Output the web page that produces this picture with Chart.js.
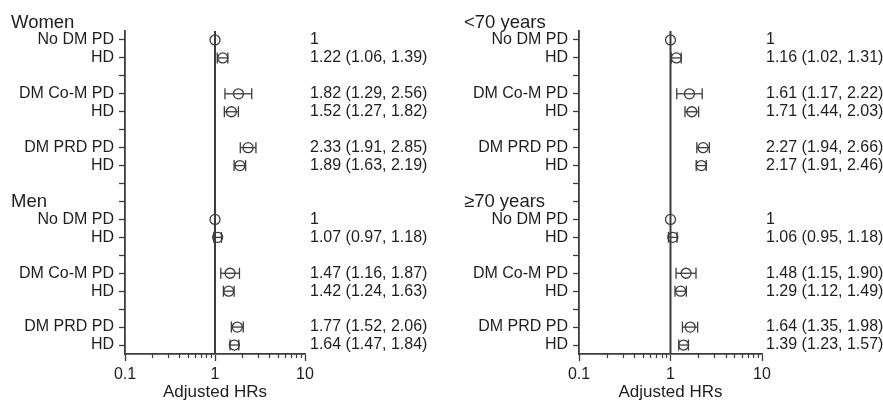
<!DOCTYPE html>
<html>
<head>
<meta charset="utf-8">
<script src="https://cdn.jsdelivr.net/npm/chart.js@4"></script>
<style>
  html, body { margin: 0; padding: 0; background: #fff; }
  #wrap { position: relative; width: 883px; height: 404px; }
  .panel { position: absolute; top: 0; height: 404px; }
  #left { left: 0; width: 441px; }
  #right { left: 441px; width: 442px; }
</style>
</head>
<body>
<div id="wrap">
  <div class="panel" id="left"><canvas id="sexChart"></canvas></div>
  <div class="panel" id="right"><canvas id="ageChart"></canvas></div>
</div>
<script>
// Row labels along the y axis (blank rows separate the groups)
const rowLabels = ['No DM PD', 'HD', '', 'DM Co-M PD', 'HD', '', 'DM PRD PD', 'HD', '',
                   '', 'No DM PD', 'HD', '', 'DM Co-M PD', 'HD', '', 'DM PRD PD', 'HD'];
// Row index of each estimate, and of each group heading
const estimateRows = [0, 1, 3, 4, 6, 7, 10, 11, 13, 14, 16, 17];
const groupRows = [-1, 9];

// Left panel: by sex
const sexTitles = ['Women', 'Men'];
const sexHR   = [1, 1.22, 1.82, 1.52, 2.33, 1.89,   1, 1.07, 1.47, 1.42, 1.77, 1.64];
const sexLow  = [null, 1.06, 1.29, 1.27, 1.91, 1.63, null, 0.97, 1.16, 1.24, 1.52, 1.47];
const sexHigh = [null, 1.39, 2.56, 1.82, 2.85, 2.19, null, 1.18, 1.87, 1.63, 2.06, 1.84];

// Right panel: by age
const ageTitles = ['<70 years', '\u226570 years'];
const ageHR   = [1, 1.16, 1.61, 1.71, 2.27, 2.17,   1, 1.06, 1.48, 1.29, 1.64, 1.39];
const ageLow  = [null, 1.02, 1.17, 1.44, 1.94, 1.91, null, 0.95, 1.15, 1.12, 1.35, 1.23];
const ageHigh = [null, 1.31, 2.22, 2.03, 2.66, 2.46, null, 1.18, 1.90, 1.49, 1.98, 1.57];

// X axis ticks
const xTicks = [0.1, 1, 10];
const xMinorTicks = [0.2, 0.3, 0.4, 0.5, 0.6, 0.7, 0.8, 0.9, 2, 3, 4, 5, 6, 7, 8, 9];

const FONT = '"Liberation Sans", Arial, Helvetica, sans-serif';
const AXIS = '#3c3c3c';
const TEXT = '#1e1e1e';

function fmt(v) { return v.toFixed(2); }

function makePanel(canvasId, titles, hr, lo, hi, geom) {
  const datasets = [];

  // Reference line at HR = 1
  datasets.push({
    type: 'line',
    data: [{ x: 1, y: -0.5 }, { x: 1, y: 17.5 }],
    borderColor: AXIS, borderWidth: 2, pointRadius: 0, order: 3
  });

  // Confidence intervals with end caps
  hr.forEach((v, i) => {
    if (lo[i] == null) return;
    datasets.push({
      type: 'line',
      data: [{ x: lo[i], y: estimateRows[i] }, { x: hi[i], y: estimateRows[i] }],
      borderColor: AXIS, borderWidth: 1.3,
      pointStyle: 'line', rotation: 90, pointRadius: 5.5,
      pointBorderColor: AXIS, pointBorderWidth: 1.3, order: 2
    });
  });

  // Point estimates (open circles)
  datasets.push({
    type: 'scatter',
    data: hr.map((v, i) => ({ x: v, y: estimateRows[i] })),
    pointStyle: 'circle', pointRadius: 5,
    pointBackgroundColor: 'rgba(0,0,0,0)',
    pointBorderColor: AXIS, pointBorderWidth: 1.3, order: 1
  });

  const panelText = {
    id: 'panelText',
    afterDraw(chart) {
      const { ctx, chartArea, scales: { x, y } } = chart;
      ctx.save();
      // minor ticks of the log axis
      ctx.strokeStyle = AXIS;
      ctx.lineWidth = 1.2;
      xMinorTicks.forEach(v => {
        const px = Math.round(x.getPixelForValue(v)) + 0.5;
        ctx.beginPath();
        ctx.moveTo(px, chartArea.bottom);
        ctx.lineTo(px, chartArea.bottom + 4);
        ctx.stroke();
      });
      // group headings
      ctx.fillStyle = TEXT;
      ctx.textAlign = 'left';
      ctx.textBaseline = 'alphabetic';
      ctx.font = '18.5px ' + FONT;
      titles.forEach((t, i) => ctx.fillText(t, geom.titleX, y.getPixelForValue(groupRows[i]) + 5.5));
      // HR (95% CI) column
      ctx.font = '16px ' + FONT;
      ctx.textBaseline = 'middle';
      hr.forEach((v, i) => {
        const label = lo[i] == null ? String(v) : `${fmt(v)} (${fmt(lo[i])}, ${fmt(hi[i])})`;
        ctx.fillText(label, chartArea.right + geom.textGap, y.getPixelForValue(estimateRows[i]));
      });
      ctx.restore();
    }
  };

  return new Chart(document.getElementById(canvasId), {
    type: 'scatter',
    data: { datasets },
    plugins: [panelText],
    options: {
      responsive: true,
      maintainAspectRatio: false,
      devicePixelRatio: 1,
      animation: false,
      events: [],
      layout: { padding: { top: 31, right: geom.padRight, bottom: 0, left: 0 } },
      plugins: { legend: { display: false }, tooltip: { enabled: false } },
      scales: {
        x: {
          type: 'logarithmic', min: 0.1, max: 10,
          afterBuildTicks: s => { s.ticks = xTicks.map(v => ({ value: v, major: true })); },
          afterFit: s => { s.height = 50; },
          grid: { drawOnChartArea: false, drawTicks: true, tickLength: 7, tickColor: AXIS, tickWidth: 1.3 },
          border: { display: true, color: AXIS, width: 1.8 },
          ticks: {
            autoSkip: false, maxRotation: 0, padding: 4, color: TEXT,
            font: { family: FONT, size: 16 },
            callback: v => String(v)
          },
          title: {
            display: true, text: 'Adjusted HRs', color: TEXT,
            font: { family: FONT, size: 17 }, padding: { top: 0, bottom: 1 }
          }
        },
        y: {
          type: 'linear', reverse: true, min: -0.5, max: 17.5,
          afterBuildTicks: s => { s.ticks = rowLabels.map((_, i) => ({ value: i })); },
          afterFit: s => { s.width = geom.axisLeft; },
          grid: { drawOnChartArea: false, drawTicks: true, tickLength: 6, tickColor: AXIS, tickWidth: 1.3 },
          border: { display: true, color: AXIS, width: 1.8 },
          ticks: {
            autoSkip: false, padding: 5, color: TEXT,
            font: { family: FONT, size: 16 },
            callback: v => rowLabels[v] ?? ''
          }
        }
      }
    }
  });
}

makePanel('sexChart', sexTitles, sexHR, sexLow, sexHigh, { axisLeft: 125, padRight: 136, titleX: 11, textGap: 5 });
makePanel('ageChart', ageTitles, ageHR, ageLow, ageHigh, { axisLeft: 138, padRight: 121, titleX: 23, textGap: 4 });
</script>
</body>
</html>
